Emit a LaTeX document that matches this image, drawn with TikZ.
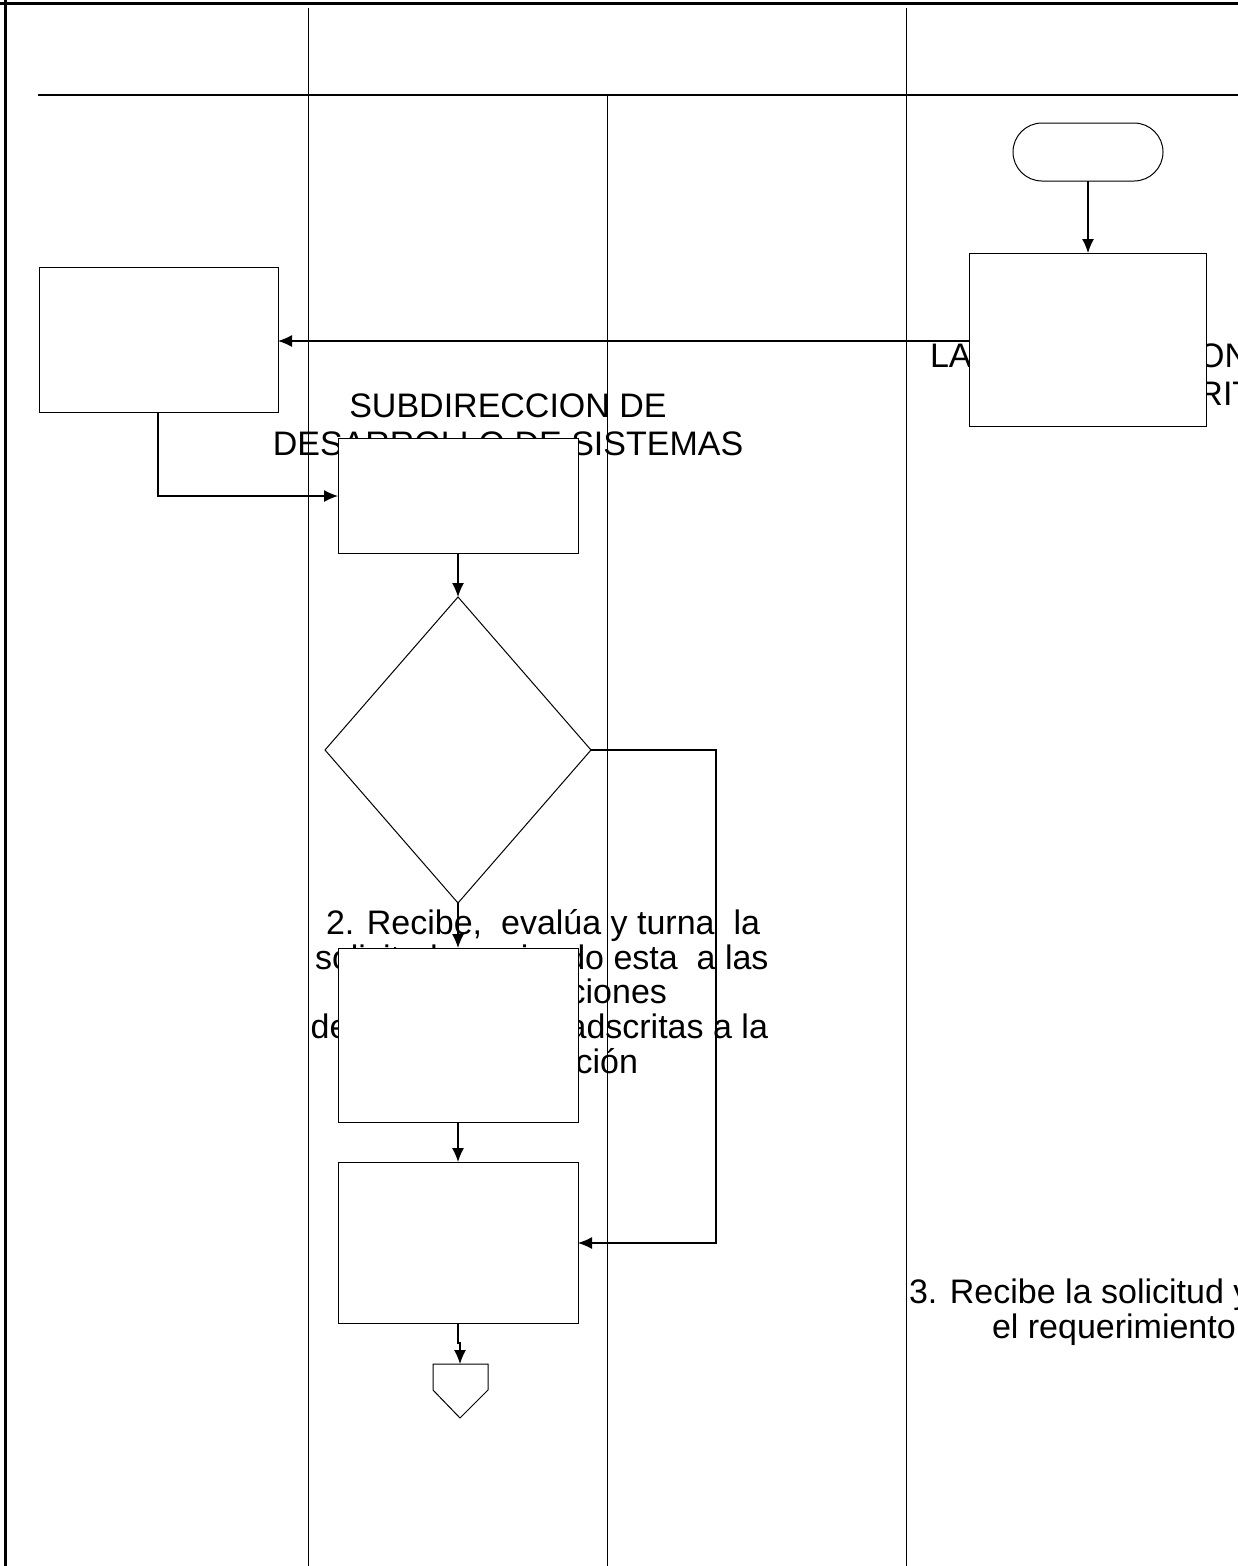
\documentclass[tikz,border=0pt]{standalone}
\usepackage{fontspec}
\setmainfont{Liberation Sans}
\usetikzlibrary{arrows.meta,shapes.geometric,shapes.misc}
\begin{document}
\begin{tikzpicture}[x=1pt,y=-1pt,
  lane/.style={line width=1pt},
  box/.style={draw, fill=white, line width=1pt, rectangle, inner sep=0pt, outer sep=0pt, anchor=north west},
  conn/.style={line width=1.2pt, -{Latex[length=14pt,width=12pt]}},
  txt/.style={inner sep=0pt, outer sep=0pt, font=\fontsize{34}{40}\selectfont},
]
\useasboundingbox (0,0) rectangle (1238,1566);
% frame
\draw[line width=3pt] (0,3) -- (1238,3);
\draw[line width=3pt] (5,0) -- (5,1566);
% lanes
\draw[lane] (308,8) -- (308,1566);
\draw[lane] (906,8) -- (906,1566);
\draw[lane] (607,95) -- (607,1566);
\draw[line width=1.5pt] (38,95) -- (1238,95);
% texts (behind the boxes)
\node[txt, anchor=base] (sub1) at (508,417) {SUBDIRECCION DE};
\node[txt, anchor=base] (sub2) at (508,455) {DESARROLLO DE SISTEMAS};
\node[txt, anchor=base west] (coord1) at (930,367) {LA COORDINACION};
\node[txt, anchor=base west] (coord2) at (1104,405) {ADSCRITA};
\node[txt, anchor=base west] (p2a) at (326,934) {2. Recibe,\ \ evalúa y turna\ \ la};
\node[txt, anchor=base west] (p2b) at (315,969) {solicitud,\ \ enviando esta\ \ a las};
\node[txt, anchor=base east] (p2c) at (667,1003) {Coordinaciones};
\node[txt, anchor=base east] (p2d) at (768,1038) {de Computación adscritas a la};
\node[txt, anchor=base east] (p2e) at (638,1073) {Subdirección};
\node[txt, anchor=base west] (p3a) at (909,1303) {3. Recibe la solicitud y analiza};
\node[txt, anchor=base west] (p3b) at (992,1338) {el requerimiento};
% shapes
\node[draw, rounded rectangle, fill=white, line width=1pt, minimum width=150pt, minimum height=58pt, inner sep=0pt, outer sep=0pt] (start) at (1088,152) {};
\node[box, minimum width=237pt, minimum height=173pt] (b1) at (969,253) {};
\node[box, minimum width=239pt, minimum height=145pt] (b0) at (39,267) {};
\node[box, minimum width=240pt, minimum height=115pt] (b2) at (338,438) {};
\node[draw, diamond, fill=white, line width=1pt, minimum width=266pt, minimum height=306pt, inner sep=0pt, outer sep=0pt] (d1) at (458,750) {};
\node[box, minimum width=240pt, minimum height=174pt] (b3) at (338,948) {};
\node[box, minimum width=240pt, minimum height=161pt] (b4) at (338,1162) {};
% off-page connector
\coordinate (offtop) at (460,1364);
\draw[line width=1pt, fill=white] (433,1364) -- (488,1364) -- (488,1390) -- (460,1418) -- (433,1390) -- cycle;
% connectors
\draw[conn] (start.south) -- (b1.north -| start.south);
\draw[conn] (b1.west |- 0,341) -- (b0.east |- 0,341);
\draw[conn] (b0.south -| 158,0) |- (b2.west |- 0,496);
\draw[conn] (b2.south) -- (d1.north);
\draw[conn] (d1.south) -- (b3.north);
\draw[conn] (b3.south) -- (b4.north);
\draw[conn] (d1.east) -- (716,750) |- (b4.east |- 0,1243);
\draw[conn] (b4.south) -- (458,1343) -- (460,1343) -- (offtop);
\end{tikzpicture}
\end{document}
